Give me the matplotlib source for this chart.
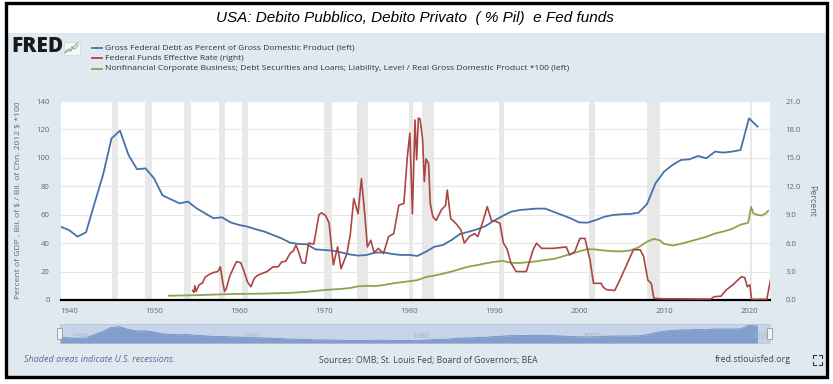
import numpy as np
import matplotlib.pyplot as plt
from matplotlib.patches import Rectangle
from matplotlib.lines import Line2D

plt.rcParams['font.family'] = ['Open Sans', 'DejaVu Sans']

# ---- data ----
debt_years = list(range(1939, 2022))
debt_pct = [51.6, 49.2, 44.6, 47.6, 68.0, 88.0, 113.7, 119.1, 102.0, 92.0,
            92.6, 85.6, 73.6, 70.8, 68.0, 69.2, 64.5, 61.0, 57.5, 58.2,
            54.6, 52.8, 51.6, 49.7, 48.1, 45.7, 43.4, 40.3, 39.4, 39.2,
            35.6, 35.2, 34.7, 33.5, 32.1, 31.2, 31.7, 33.3, 33.5, 32.4,
            31.7, 31.7, 31.0, 34.0, 37.5, 38.7, 42.2, 46.4, 48.0, 49.7,
            52.0, 55.8, 59.1, 62.1, 63.3, 63.8, 64.3, 64.3, 62.1, 59.8,
            57.5, 54.6, 54.4, 56.3, 58.6, 59.8, 60.3, 60.5, 61.4, 67.5,
            82.1, 90.3, 95.0, 98.5, 99.0, 101.3, 99.7, 104.4, 103.7, 104.4,
            105.5, 127.8, 122.0]

ff_dates = [1954.55, 1954.7, 1954.8, 1954.95, 1955.3, 1955.7, 1956.0, 1956.5,
            1957.0, 1957.5, 1957.8, 1958.1, 1958.3, 1958.5, 1958.9, 1959.3,
            1959.7, 1960.2, 1960.6, 1961.0, 1961.4, 1961.8, 1962.2, 1962.7,
            1963.3, 1964.0, 1964.6, 1965.0, 1965.5, 1966.0, 1966.4, 1966.7,
            1967.0, 1967.4, 1967.8, 1968.2, 1968.8, 1969.4, 1969.7, 1970.2,
            1970.6, 1971.1, 1971.6, 1972.0, 1972.7, 1973.1, 1973.5, 1974.0,
            1974.4, 1974.8, 1975.1, 1975.5, 1975.9, 1976.4, 1977.0, 1977.6,
            1978.2, 1978.8, 1979.4, 1979.8, 1980.1, 1980.4, 1980.7, 1980.9,
            1981.1, 1981.3, 1981.6, 1981.8, 1982.0, 1982.3, 1982.5, 1982.8,
            1983.2, 1983.8, 1984.3, 1984.5, 1984.9, 1985.5, 1986.1, 1986.5,
            1987.1, 1987.7, 1988.1, 1988.7, 1989.2, 1989.7, 1990.2, 1990.7,
            1991.1, 1991.5, 1992.0, 1992.6, 1993.8, 1994.6, 1995.0, 1995.6,
            1997.0, 1998.5, 1998.9, 1999.5, 2000.1, 2000.7, 2001.3, 2001.7,
            2002.6, 2002.8, 2003.2, 2004.2, 2004.8, 2006.4, 2007.2, 2007.6,
            2008.1, 2008.5, 2008.8, 2010.0, 2012.0, 2015.5, 2015.9, 2016.7,
            2017.3, 2018.1, 2019.1, 2019.5, 2019.8, 2020.1, 2020.3, 2021.0,
            2022.1, 2022.6]
ff_rate = [1.0, 0.8, 1.5, 0.9, 1.6, 1.8, 2.4, 2.7,
           2.9, 3.0, 3.5, 1.8, 0.9, 1.2, 2.5, 3.3,
           4.05, 3.94, 3.0, 1.9, 1.4, 2.3, 2.6, 2.8,
           3.0, 3.5, 3.5, 4.0, 4.1, 4.9, 5.2, 5.8,
           5.1, 3.94, 3.87, 6.0, 5.9, 9.0, 9.2, 8.9,
           8.1, 3.7, 5.6, 3.3, 4.9, 7.0, 10.7, 9.1,
           12.8, 9.0, 5.6, 6.3, 5.0, 5.45, 4.9, 6.7,
           7.0, 10.0, 10.2, 15.1, 17.6, 9.1, 19.0, 14.8,
           19.2, 19.1, 16.9, 12.5, 14.9, 14.4, 10.2, 8.8,
           8.4, 9.5, 10.0, 11.6, 8.6, 8.1, 7.4, 6.0,
           6.7, 7.0, 6.7, 8.3, 9.85, 8.4, 8.3, 8.1,
           6.0, 5.45, 3.9, 3.0, 3.0, 5.3, 6.0, 5.45,
           5.45, 5.6, 4.75, 5.1, 6.5, 6.5, 4.2, 1.76,
           1.76, 1.4, 1.1, 1.0, 2.1, 5.3, 5.3, 4.6,
           2.1, 1.76, 0.18, 0.12, 0.12, 0.1, 0.35, 0.4,
           1.05, 1.6, 2.46, 2.36, 1.4, 1.6, 0.07, 0.08,
           0.08, 2.46]

corp_dates = [1951.75, 1955, 1958, 1960, 1963, 1966, 1968, 1970, 1972, 1973,
              1974, 1975, 1976, 1977, 1978, 1979, 1980, 1981, 1982, 1983,
              1984, 1985, 1986, 1987, 1988, 1989, 1990, 1991, 1992, 1993,
              1994, 1995, 1996, 1997, 1998, 1999, 2000, 2001, 2002, 2003,
              2004, 2005, 2006, 2007, 2008, 2008.8, 2009.5, 2010, 2011, 2012,
              2013, 2014, 2015, 2016, 2017, 2018, 2019, 2019.9, 2020.25, 2020.5,
              2021.0, 2021.5, 2022.0, 2022.25]
corp_ratio = [3.0, 3.4, 4.0, 4.3, 4.5, 5.0, 5.8, 7.0, 7.8, 8.4,
              9.6, 10.0, 9.8, 10.5, 11.6, 12.4, 13.2, 14.0, 16.2, 17.2,
              18.5, 20.0, 21.8, 23.5, 24.5, 25.8, 26.8, 27.5, 26.2, 26.0,
              26.6, 27.2, 28.2, 28.8, 30.5, 32.3, 34.2, 35.8, 35.5, 34.8,
              34.3, 34.2, 34.8, 37.0, 41.0, 43.0, 42.0, 39.5, 38.3, 39.5,
              41.2, 42.8, 44.5, 46.8, 48.2, 50.0, 53.0, 54.3, 65.5, 61.0,
              59.8, 59.5, 61.0, 62.8]

recessions = [(1945.1, 1945.8), (1948.9, 1949.8), (1953.5, 1954.4), (1957.6, 1958.3),
              (1960.3, 1961.1), (1969.95, 1970.9), (1973.9, 1975.2), (1980.0, 1980.5),
              (1981.5, 1982.9), (1990.55, 1991.2), (2001.2, 2001.9), (2007.95, 2009.5),
              (2020.1, 2020.3)]

labels = ['Gross Federal Debt as Percent of Gross Domestic Product (left)',
          'Federal Funds Effective Rate (right)',
          'Nonfinancial Corporate Business; Debt Securities and Loans; Liability, Level / Real Gross Domestic Product *100 (left)']
colors = ['#4572a7', '#aa4643', '#89a54e']

W, H = 833, 384


def fx(px):
    return px / W


def fy(py):
    return 1 - py / H


fig = plt.figure(figsize=(W / 100, H / 100), dpi=100, facecolor='white')

# panel + black frame
fig.patches.append(Rectangle((fx(6), fy(376)), fx(826) - fx(6), fy(33) - fy(376),
                             transform=fig.transFigure, facecolor='#e1e9f0',
                             edgecolor='none', zorder=-5))
fig.patches.append(Rectangle((fx(5.5), fy(377)), fx(827.5) - fx(5.5), fy(3) - fy(377),
                             transform=fig.transFigure, fill=False,
                             edgecolor='black', lw=2.4, zorder=5))

fig.text(fx(415), fy(18), 'USA: Debito Pubblico, Debito Privato  ( % Pil)  e Fed funds',
         ha='center', va='center', fontsize=11, style='italic',
         family=['Liberation Sans Narrow', 'Liberation Sans'], color='black')

# FRED logo and little icon
fig.text(fx(11), fy(47), 'FRED', ha='left', va='center', fontsize=15,
         fontweight='black', color='#1a1a1a')
fig.patches.append(Rectangle((fx(64), fy(55)), fx(16), 13 / H, transform=fig.transFigure,
                             facecolor='#f4f6f8', edgecolor='#d0d6de', lw=0.5))
fig.add_artist(Line2D([fx(65), fx(68), fx(71), fx(74), fx(78)],
                      [fy(53), fy(49), fy(51), fy(46), fy(43)], color='#9bbb59', lw=0.8))
fig.add_artist(Line2D([fx(65), fx(69), fx(72), fx(75), fx(78)],
                      [fy(52), fy(51), fy(47), fy(49), fy(45)], color='#7a9cc8', lw=0.6))

# legend
for i, (lab, c) in enumerate(zip(labels, colors)):
    yy = 48 + i * 10.3
    fig.add_artist(Line2D([fx(92), fx(102)], [fy(yy), fy(yy)], color=c, lw=1.3))
    fig.text(fx(105), fy(yy), lab, ha='left', va='center', fontsize=6.1, color='#333333')

# main plot
ax = fig.add_axes([fx(60.7), fy(300), fx(770) - fx(60.7), (300 - 101) / H])
ax.set_facecolor('white')
x0, x1 = 1939.02, 2022.47
for a, b in recessions:
    ax.axvspan(a, b, color='#e8e8e8', lw=0, zorder=1)
ax.plot(debt_years, debt_pct, color=colors[0], lw=1.3, zorder=4)
ax.plot(corp_dates, corp_ratio, color=colors[2], lw=1.3, zorder=4)
ax.set_xlim(x0, x1)
ax.set_ylim(0, 140)
ax.set_yticks(np.arange(0, 141, 20))
ax.set_xticks(np.arange(1940, 2021, 10))
ax.yaxis.grid(True, color='#e6e6e6', lw=0.8, zorder=0)
ax.set_axisbelow(True)
for s in ['top', 'left', 'right']:
    ax.spines[s].set_visible(False)
ax.spines['bottom'].set_color('black')
ax.spines['bottom'].set_linewidth(1.6)
ax.spines['bottom'].set_zorder(6)
ax.tick_params(axis='y', length=0, pad=8, labelsize=5.6, labelcolor='#666666')
ax.tick_params(axis='x', length=0, pad=6, labelsize=5.6, labelcolor='#666666')
ax.set_ylabel(r'Percent of GDP , Bil. of \$ / Bil. of Chn. 2012 \$ *100', fontsize=6.1,
              color='#666666', va='center')
ax.yaxis.set_label_coords(-0.0588, 0.5)

ax2 = ax.twinx()
ax2.plot(ff_dates, ff_rate, color=colors[1], lw=1.2, zorder=4)
ax2.set_ylim(0, 21)
ax2.set_xlim(x0, x1)
ax2.set_yticks(np.arange(0, 21.1, 3))
ax2.set_yticklabels(['%.1f' % v for v in np.arange(0, 21.1, 3)])
for s in ax2.spines.values():
    s.set_visible(False)
ax2.tick_params(axis='y', length=0, pad=11, labelsize=5.6, labelcolor='#666666')
ax2.set_ylabel('Percent', fontsize=6.3, color='#666666', rotation=270, va='center')
ax2.yaxis.set_label_coords(1.059, 0.5)

# navigator
nav = fig.add_axes([fx(60), fy(343), fx(770) - fx(60), 19 / H])
nav.set_facecolor('#c6d3e9')
nav.fill_between(debt_years, debt_pct, 0, color='#819ecd', lw=0)
nav.plot(debt_years, debt_pct, color='#7290c2', lw=0.6)
nav.set_xlim(x0, x1)
nav.set_ylim(16, 136)
nav.set_xticks([])
nav.set_yticks([])
for s in nav.spines.values():
    s.set_color('#b4c2da')
    s.set_linewidth(0.5)
for yr in range(1940, 2021, 20):
    nav.text(yr + 0.4, 0.35, str(yr), transform=nav.get_xaxis_transform(),
             fontsize=5.5, color='#a9b2c2', ha='left', va='center')
for hx in (57, 767):
    fig.patches.append(Rectangle((fx(hx), fy(339)), fx(5), 11 / H, transform=fig.transFigure,
                                 facecolor='#f2f2f2', edgecolor='#999999', lw=0.6, zorder=3))

# footer
fig.text(fx(24), fy(360), 'Shaded areas indicate U.S. recessions.', ha='left', va='center',
         fontsize=6.5, style='italic', color='#5a6c96')
fig.text(fx(428), fy(360), 'Sources: OMB; St. Louis Fed; Board of Governors; BEA',
         ha='center', va='center', fontsize=6.3, color='#444444')
fig.text(fx(791), fy(360), 'fred.stlouisfed.org', ha='right', va='center',
         fontsize=6.4, color='#444444')
for cx, cy, dx, dy in [(813, 355, 1, 1), (822, 355, -1, 1), (813, 365, 1, -1), (822, 365, -1, -1)]:
    fig.add_artist(Line2D([fx(cx), fx(cx), fx(cx + 3 * dx)],
                          [fy(cy + 3 * dy), fy(cy), fy(cy)], color='#333333', lw=0.8))

fig.savefig('out.png', dpi=100, facecolor='white')
